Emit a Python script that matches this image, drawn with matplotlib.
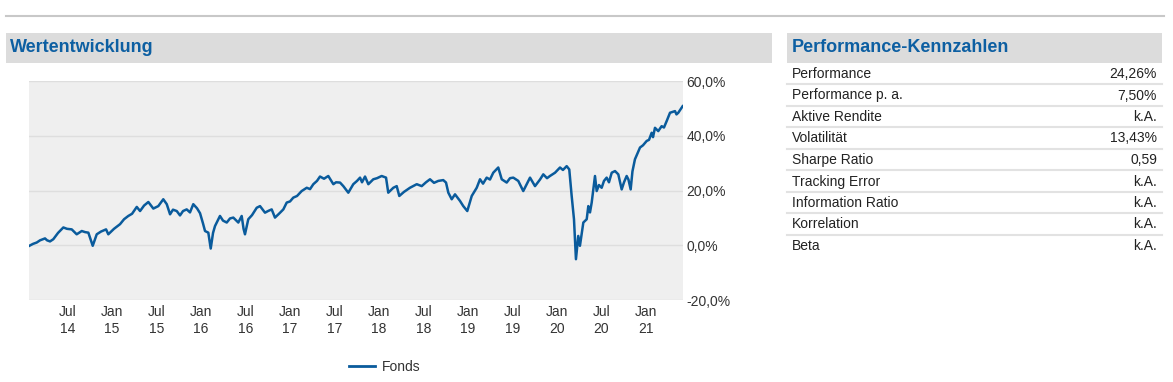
import matplotlib
matplotlib.use("Agg")
import matplotlib.pyplot as plt
from matplotlib.patches import Rectangle
from matplotlib.lines import Line2D

plt.rcParams['font.family'] = ['Liberation Sans', 'DejaVu Sans']

# fund performance in %; time as decimal years
t_years = [2014.071, 2014.112, 2014.154, 2014.191, 2014.247, 2014.270, 2014.303, 2014.340,
           2014.393, 2014.453, 2014.494, 2014.547, 2014.603, 2014.660, 2014.697, 2014.734,
           2014.783, 2014.828, 2014.876, 2014.933, 2014.958, 2015.022, 2015.090, 2015.135,
           2015.183, 2015.225, 2015.278, 2015.315, 2015.360, 2015.408, 2015.464, 2015.520,
           2015.576, 2015.615, 2015.652, 2015.685, 2015.727, 2015.764, 2015.798, 2015.839,
           2015.876, 2015.913, 2015.955, 2015.989, 2016.022, 2016.045, 2016.082, 2016.109,
           2016.135, 2016.157, 2016.213, 2016.247, 2016.289, 2016.326, 2016.363, 2016.419,
           2016.457, 2016.478, 2016.494, 2016.531, 2016.573, 2016.626, 2016.663, 2016.719,
           2016.753, 2016.794, 2016.831, 2016.876, 2016.925, 2016.963, 2017.000, 2017.037,
           2017.079, 2017.131, 2017.188, 2017.225, 2017.262, 2017.303, 2017.337, 2017.382,
           2017.430, 2017.487, 2017.517, 2017.562, 2017.599, 2017.655, 2017.711, 2017.753,
           2017.787, 2017.809, 2017.843, 2017.880, 2017.936, 2017.978, 2018.030, 2018.079,
           2018.104, 2018.161, 2018.199, 2018.228, 2018.281, 2018.348, 2018.424, 2018.480,
           2018.528, 2018.573, 2018.618, 2018.666, 2018.722, 2018.753, 2018.779, 2018.817,
           2018.854, 2018.910, 2018.947, 2018.992, 2019.042, 2019.098, 2019.135, 2019.169,
           2019.210, 2019.247, 2019.284, 2019.340, 2019.379, 2019.435, 2019.472, 2019.509,
           2019.565, 2019.621, 2019.663, 2019.697, 2019.753, 2019.809, 2019.846, 2019.888,
           2019.921, 2019.978, 2020.034, 2020.067, 2020.109, 2020.138, 2020.165, 2020.191,
           2020.213, 2020.239, 2020.258, 2020.296, 2020.334, 2020.352, 2020.371, 2020.390,
           2020.427, 2020.446, 2020.472, 2020.502, 2020.528, 2020.558, 2020.584, 2020.615,
           2020.652, 2020.689, 2020.727, 2020.753, 2020.783, 2020.803, 2020.828, 2020.848,
           2020.876, 2020.933, 2020.966, 2021.008, 2021.034, 2021.064, 2021.079, 2021.101,
           2021.138, 2021.176, 2021.202, 2021.233, 2021.270, 2021.326, 2021.343, 2021.363,
           2021.412]
fonds = [-0.2, 0.5, 1.0, 1.8, 2.5, 1.8, 1.4, 2.2,
         4.5, 6.5, 6.0, 5.8, 4.0, 5.2, 4.8, 4.6,
         -0.2, 4.0, 5.0, 5.8, 4.0, 6.0, 7.7, 9.5,
         10.7, 11.5, 14.0, 12.5, 14.5, 15.8, 13.4, 14.3,
         16.8, 15.0, 11.3, 13.0, 12.5, 10.9, 12.5, 13.1,
         12.0, 15.0, 13.5, 11.7, 8.0, 5.2, 4.6, -1.2,
         4.5, 7.0, 10.7, 9.0, 8.3, 9.8, 10.1, 8.3,
         10.7, 6.0, 4.0, 9.5, 11.0, 13.7, 14.3, 11.9,
         12.5, 13.1, 10.1, 11.5, 13.1, 15.6, 16.0, 17.4,
         18.0, 19.8, 21.0, 20.5, 22.3, 23.5, 25.1, 24.3,
         25.3, 22.3, 23.0, 22.9, 21.6, 19.2, 22.3, 23.5,
         24.7, 23.0, 25.1, 22.3, 24.1, 24.5, 25.3, 24.7,
         19.2, 21.0, 21.6, 18.0, 19.5, 21.0, 22.3, 21.6,
         23.0, 24.1, 22.8, 23.5, 23.8, 22.9, 19.2, 16.8,
         18.6, 16.2, 14.3, 12.5, 18.0, 21.0, 24.1, 22.5,
         24.7, 24.0, 26.5, 28.4, 24.1, 22.9, 24.5, 24.7,
         23.5, 19.8, 22.5, 24.7, 21.6, 24.0, 25.9, 24.5,
         25.3, 26.5, 28.4, 27.5, 28.9, 27.7, 18.0, 9.5,
         -5.1, 3.4, -0.2, 8.3, 9.5, 14.3, 12.0, 15.6,
         25.3, 19.8, 22.0, 21.0, 23.5, 24.7, 23.0, 26.5,
         27.1, 25.9, 20.4, 23.0, 25.3, 24.0, 20.4, 27.0,
         31.4, 35.7, 36.5, 38.1, 38.5, 41.1, 39.5, 42.9,
         41.7, 43.5, 43.0, 45.4, 48.4, 49.0, 47.8, 48.4,
         50.8]

xtick_pos = [2014.5, 2015.0, 2015.5, 2016.0, 2016.5, 2017.0, 2017.5,
             2018.0, 2018.5, 2019.0, 2019.5, 2020.0, 2020.5, 2021.0]
xtick_labels = ["Jul\n14", "Jan\n15", "Jul\n15", "Jan\n16", "Jul\n16", "Jan\n17", "Jul\n17",
                "Jan\n18", "Jul\n18", "Jan\n19", "Jul\n19", "Jan\n20", "Jul\n20", "Jan\n21"]
ytick_pos = [-20, 0, 20, 40, 60]

kpi_labels = ["Performance", "Performance p. a.", "Aktive Rendite", "Volatilität",
              "Sharpe Ratio", "Tracking Error", "Information Ratio", "Korrelation", "Beta"]
kpi_values = ["24,26%", "7,50%", "k.A.", "13,43%", "0,59", "k.A.", "k.A.", "k.A.", "k.A."]

W, H = 1173, 382
BLUE = "#0a5b9c"
TITLE_BLUE = "#0d5fa2"
TXT = "#333333"
FS = 10

fig = plt.figure(figsize=(W / 100, H / 100), dpi=100)
fig.patch.set_facecolor("white")


def fx(px):
    return px / W


def fy(py):
    return 1 - py / H


# top rule
fig.add_artist(Line2D([fx(6), fx(1164)], [fy(16), fy(16)], color="#c8c8c8", lw=1.5))

# header bands
fig.add_artist(Rectangle((fx(6), fy(63)), fx(772) - fx(6), (63 - 33) / H,
                         color="#dcdcdc", lw=0))
fig.add_artist(Rectangle((fx(787), fy(63)), fx(1162) - fx(787), (63 - 33) / H,
                         color="#dcdcdc", lw=0))
fig.text(fx(10), fy(48), "Wertentwicklung", fontsize=13, fontweight="bold",
         color=TITLE_BLUE, va="center", ha="left")
fig.text(fx(792), fy(48), "Performance-Kennzahlen", fontsize=13, fontweight="bold",
         color=TITLE_BLUE, va="center", ha="left")

# chart
ax = fig.add_axes([fx(29), fy(300), fx(683) - fx(29), (300 - 81) / H])
ax.set_facecolor("#efefef")
ax.plot(t_years, fonds, color=BLUE, lw=1.8, solid_joinstyle="round", label="Fonds")
ax.set_xlim(2014.067, 2021.416)
ax.set_ylim(-20, 60)
for s in ax.spines.values():
    s.set_visible(False)
ax.yaxis.tick_right()
ax.set_yticks(ytick_pos)
ax.set_yticklabels([f"{v:.1f}%".replace(".", ",") for v in ytick_pos])
ax.set_xticks(xtick_pos)
ax.set_xticklabels(xtick_labels, linespacing=1.3)
ax.tick_params(axis="y", length=0, pad=2.5, labelsize=FS, labelcolor=TXT)
ax.tick_params(axis="x", length=0, pad=3.5, labelsize=FS, labelcolor=TXT)
ax.grid(axis="y", color="#dedede", lw=1)
ax.set_axisbelow(True)

fig.legend(handles=[Line2D([], [], color=BLUE, lw=2)], labels=["Fonds"],
           loc="center", bbox_to_anchor=(fx(385), fy(367)), frameon=False,
           handlelength=1.9, handletextpad=0.5, fontsize=FS, labelcolor=TXT)

# KPI table
row_y = [74 + i * 21.5 for i in range(len(kpi_labels))]
for i, (lab, val) in enumerate(zip(kpi_labels, kpi_values)):
    y = row_y[i]
    fig.text(fx(792), fy(y), lab, fontsize=FS, color="#222222", va="center", ha="left")
    fig.text(fx(1157), fy(y), val, fontsize=FS, color="#222222", va="center", ha="right")
    if i < len(kpi_labels) - 1:
        fig.add_artist(Line2D([fx(787), fx(1162)], [fy(y + 10), fy(y + 10)],
                              color="#e2e2e2", lw=1.5))

fig.savefig("out.png", dpi=100)
